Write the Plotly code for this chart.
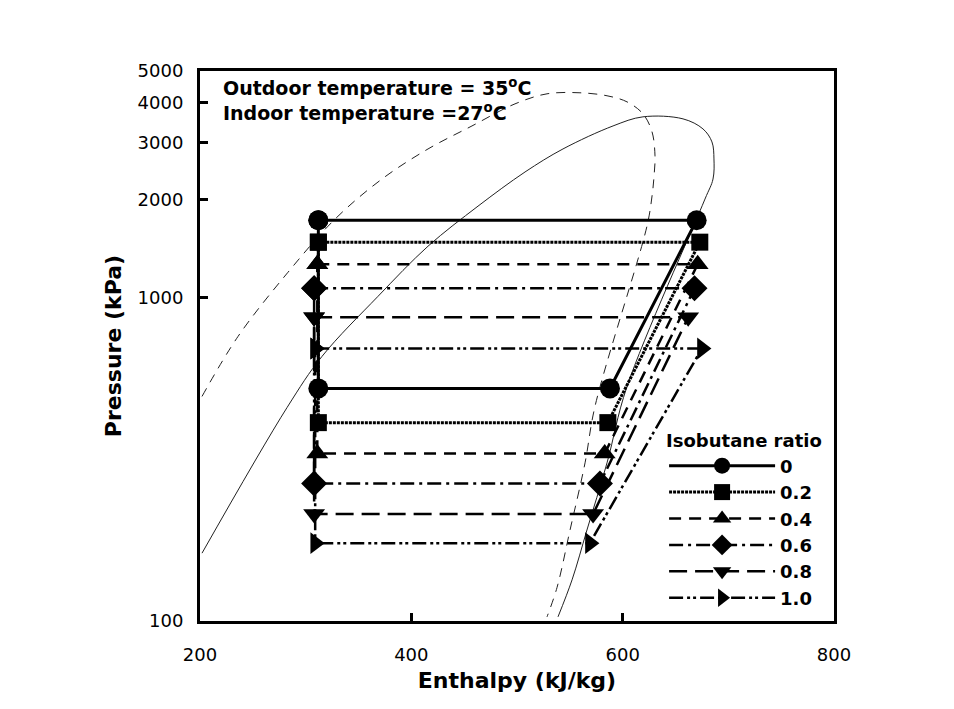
import plotly.graph_objects as go

# ---- data ----
ratios = ["0", "0.2", "0.4", "0.6", "0.8", "1.0"]
h_liquid = [312, 312, 311, 308, 308, 309]          # kJ/kg, left (expansion) side
h_discharge = [670, 673, 671, 668, 662, 675]       # kJ/kg, compressor outlet
h_suction = [588, 586, 583, 578.5, 572, 569]       # kJ/kg, compressor inlet
p_high = [1730, 1480, 1265, 1066, 867, 695]        # kPa, condensing
p_low = [523, 410, 329, 266, 214, 174]             # kPa, evaporating

# saturation dome (solid)
dome1_h = [201.9, 282.3, 315.5, 368.5, 415.8, 463.1, 507.6, 543.5, 590.9, 619.2,
           657.1, 676.0, 684.5, 686.4, 685.5, 677.9, 604.1, 585.2, 566.2, 552.1, 538.8]
dome1_p = [162, 456, 657, 1007, 1438, 1912, 2438, 2872, 3383, 3609,
           3557, 3312, 3019, 2675, 2319, 2011, 530, 308, 191, 134, 103]
# saturation dome (dashed)
dome2_h = [201.9, 236.0, 283.3, 327.8, 372.2, 415.8, 457.4, 498.1, 528.4, 559.6,
           585.2, 604.1, 619.2, 627.8, 630.6, 629.7, 627.8, 623.0, 573.8, 564.4,
           550.2, 537.9, 528.4]
dome2_p = [494, 757, 1195, 1744, 2319, 2872, 3383, 3958, 4251, 4282,
           4192, 4015, 3687, 3242, 2733, 2369, 2055, 1659, 460, 308,
           191, 127, 103]

symbols = ["circle", "square", "triangle-up", "diamond", "triangle-down", "triangle-right"]
msizes = [20, 17, 19, 20, 19, 19]
dashes = ["solid", "3px,1px", "12px,8px", "14px,5px,3px,5px", "18px,8px",
          "14px,4px,3px,3px,3px,4px"]
widths = [3, 3, 2.5, 2.5, 2.5, 2.5]

x_ticks = [200, 400, 600, 800]
y_ticks = [100, 1000, 2000, 3000, 4000, 5000]

FONT = "DejaVu Sans, Arial, sans-serif"

fig = go.Figure()

fig.add_trace(go.Scatter(x=dome1_h, y=dome1_p, mode="lines", showlegend=False,
                         line=dict(color="#222", width=1, shape="spline", smoothing=1.0),
                         hoverinfo="skip"))
fig.add_trace(go.Scatter(x=dome2_h, y=dome2_p, mode="lines", showlegend=False,
                         line=dict(color="#222", width=1, dash="9px,7px", shape="spline",
                                   smoothing=1.0),
                         hoverinfo="skip"))

for i, r in enumerate(ratios):
    xs = [h_liquid[i], h_discharge[i], h_suction[i], h_liquid[i], h_liquid[i]]
    ys = [p_high[i], p_high[i], p_low[i], p_low[i], p_high[i]]
    fig.add_trace(go.Scatter(
        x=xs, y=ys, mode="lines+markers", name="<b>" + r + "</b>",
        line=dict(color="black", width=widths[i], dash=dashes[i]),
        marker=dict(symbol=symbols[i], size=msizes[i], color="black"),
    ))

fig.add_annotation(xref="paper", yref="paper", x=0.033, y=0.997, xanchor="left", yanchor="top",
                   align="left", showarrow=False,
                   text="<b>Outdoor temperature = 35<sup>o</sup>C</b><br><b>Indoor temperature =27<sup>o</sup>C</b>",
                   font=dict(family=FONT, size=19, color="black"))

axis_common = dict(showline=True, linecolor="black", linewidth=3, mirror=True,
                   ticks="inside", tickcolor="black", tickwidth=3, ticklen=8,
                   showgrid=False, zeroline=False,
                   tickfont=dict(family=FONT, size=18, color="black"))

fig.update_xaxes(range=[200, 800], tickvals=x_ticks, ticktext=[str(v) for v in x_ticks],
                 title=dict(text="<b>Enthalpy (kJ/kg)</b>", font=dict(family=FONT, size=22, color="black"),
                            standoff=10),
                 ticklabelstandoff=15, **axis_common)
fig.update_yaxes(type="log", range=[2, 3.69897], tickvals=y_ticks,
                 ticktext=[str(v) for v in y_ticks],
                 title=dict(text="<b>Pressure (kPa)</b>", font=dict(family=FONT, size=22, color="black"),
                            standoff=10),
                 ticklabelstandoff=10, **axis_common)

fig.update_layout(
    width=954, height=709,
    margin=dict(l=192, r=128, t=63, b=96),
    plot_bgcolor="white", paper_bgcolor="white",
    font=dict(family=FONT, color="black"),
    legend=dict(x=0.732, y=0.358, xanchor="left", yanchor="top",
                bgcolor="rgba(0,0,0,0)", itemwidth=106,
                title=dict(text="<b>Isobutane ratio</b>", font=dict(family=FONT, size=18, color="black")),
                font=dict(family=FONT, size=18, color="black"),
                tracegroupgap=0),
)

fig.write_html("out.html")
